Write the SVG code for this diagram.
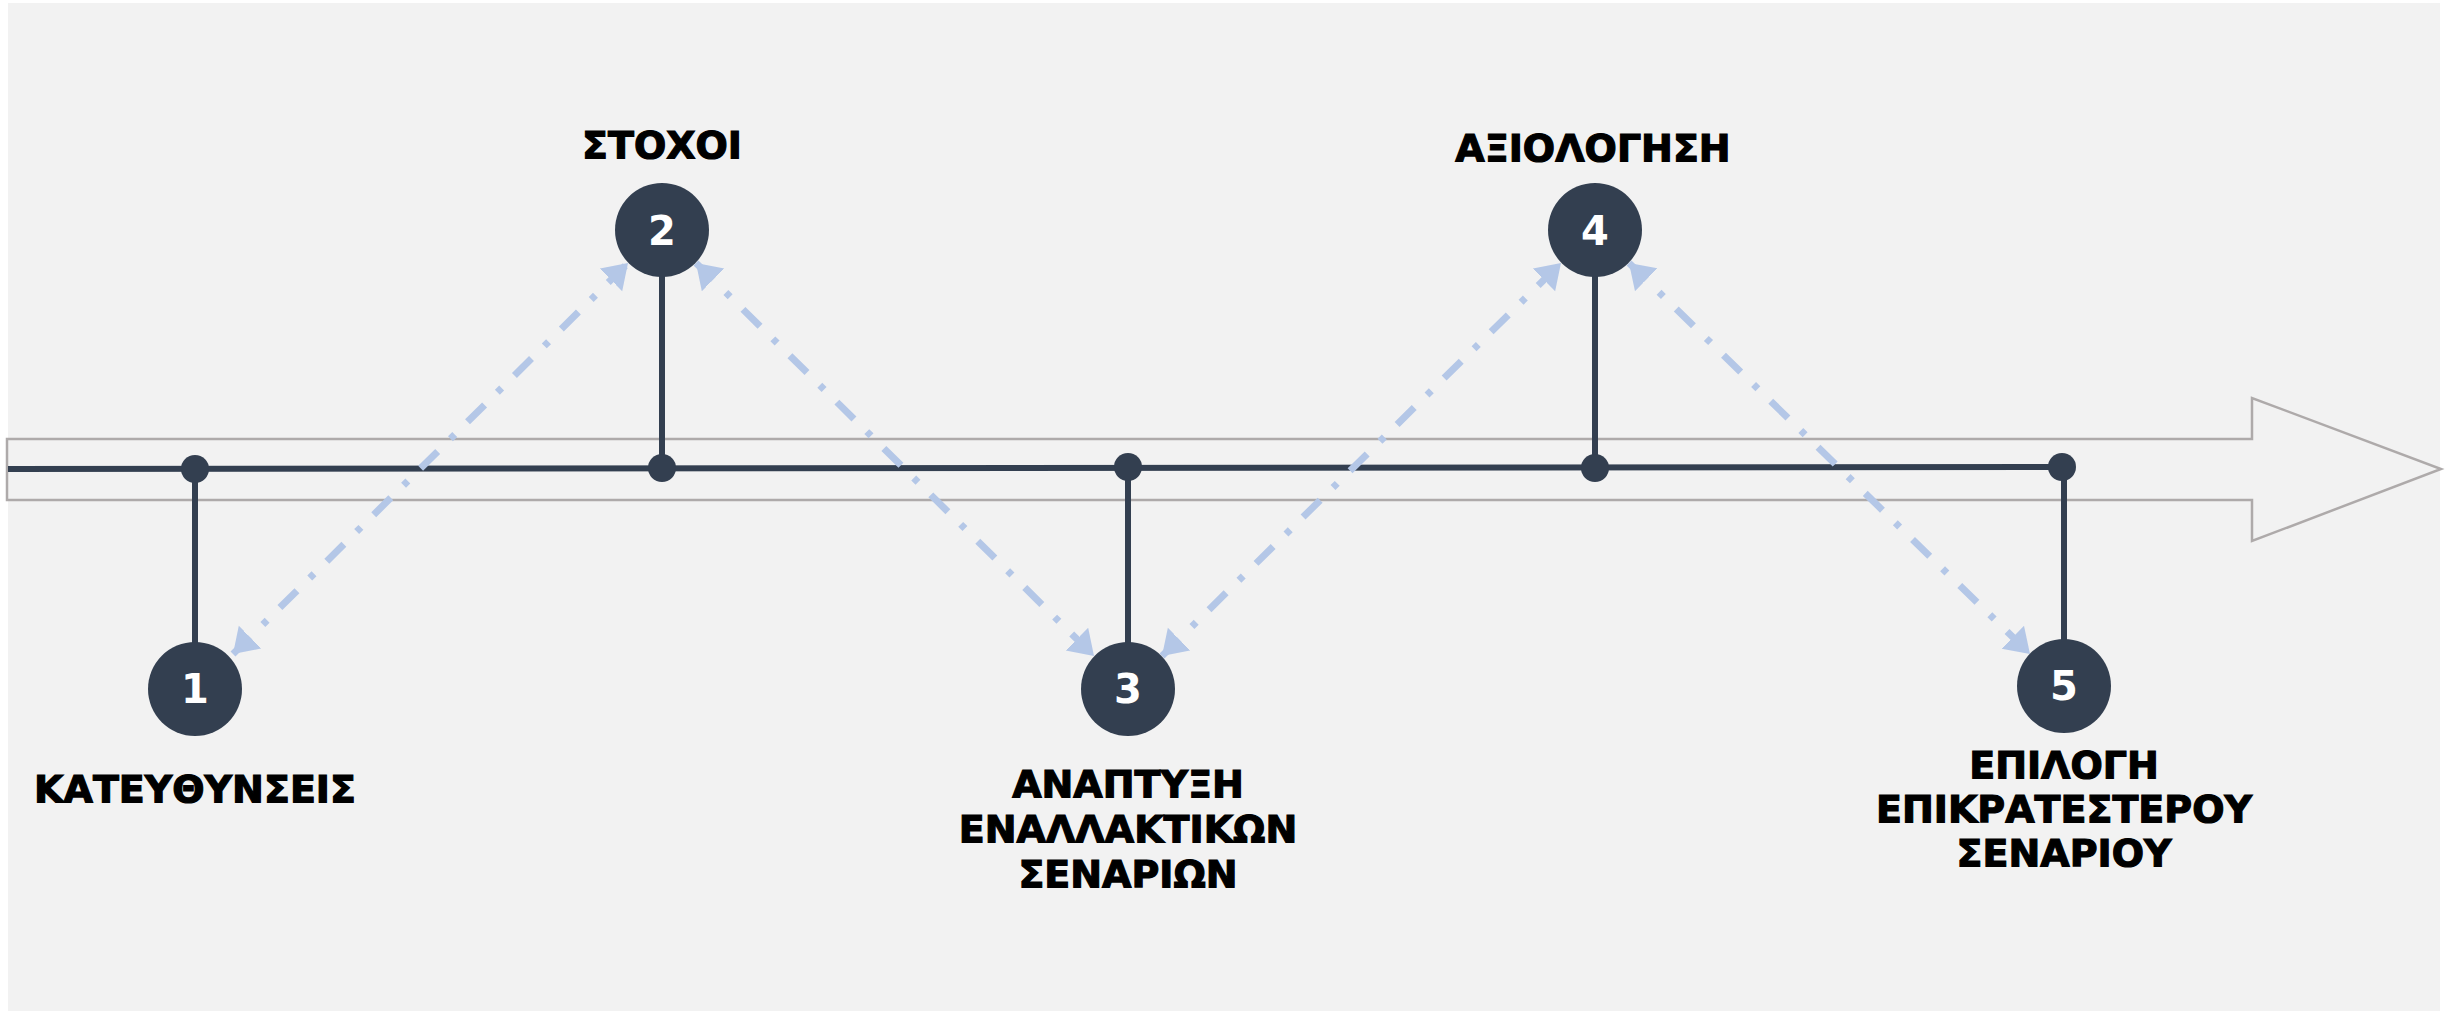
<svg xmlns="http://www.w3.org/2000/svg" width="2447" height="1011" viewBox="0 0 2447 1011">
  <style>
    .bg { fill: #f2f2f2; }
    .big-arrow { fill: none; stroke: #aeaaaa; stroke-width: 2.5; }
    .timeline { stroke: #333f50; stroke-width: 6; fill: none; }
    .stem { stroke: #333f50; stroke-width: 6; }
    .dot { fill: #333f50; }
    .circle { fill: #333f50; }
    .num { font-family: "DejaVu Sans", Verdana, sans-serif; font-weight: bold; font-size: 40px; fill: #ffffff; text-anchor: middle; }
    .label { font-family: "DejaVu Sans", Verdana, sans-serif; font-weight: bold; font-size: 38px; fill: #000000; stroke: #000000; stroke-width: 1.2; text-anchor: middle; }
    .flow { stroke: #b4c7e7; stroke-width: 7; fill: none; stroke-dasharray: 24 18 6 18; marker-start: url(#ah); marker-end: url(#ah); }
  </style>
  <defs>
    <marker id="ah" markerUnits="userSpaceOnUse" markerWidth="26" markerHeight="34" refX="24" refY="16" orient="auto-start-reverse" viewBox="0 0 26 34">
      <path d="M0,0 L24,16 L0,32 Z" fill="#b4c7e7"/>
    </marker>
  </defs>

  <rect class="bg" x="8" y="3" width="2432" height="1008"/>

  <polygon class="big-arrow" points="7,439 2252,439 2252,398 2441,469 2252,541 2252,500 7,500"/>

  <g id="connectors">
    <line class="timeline" x1="8" y1="469" x2="2062" y2="467"/>
    <line class="stem" x1="195" y1="469" x2="195" y2="645"/>
    <line class="stem" x1="662" y1="468" x2="662" y2="275"/>
    <line class="stem" x1="1128" y1="467" x2="1128" y2="645"/>
    <line class="stem" x1="1595" y1="468" x2="1595" y2="275"/>
    <line class="stem" x1="2064" y1="467" x2="2064" y2="642"/>
    <line class="flow" x1="233" y1="654" x2="628" y2="263"/>
    <line class="flow" x1="696" y1="263" x2="1094" y2="656"/>
    <line class="flow" x1="1162" y1="656" x2="1561" y2="263"/>
    <line class="flow" x1="1629" y1="263" x2="2030" y2="654"/>
  </g>

  <g id="dot1"><circle class="dot" cx="195" cy="469" r="14"/></g>
  <g id="dot2"><circle class="dot" cx="662" cy="468" r="14"/></g>
  <g id="dot3"><circle class="dot" cx="1128" cy="467" r="14"/></g>
  <g id="dot4"><circle class="dot" cx="1595" cy="468" r="14"/></g>
  <g id="dot5"><circle class="dot" cx="2062" cy="467" r="14"/></g>

  <g id="node1">
    <circle class="circle" cx="195" cy="689" r="47"/>
    <text class="num" x="195" y="703">1</text>
    <text class="label" x="195" y="802">ΚΑΤΕΥΘΥΝΣΕΙΣ</text>
  </g>
  <g id="node2">
    <circle class="circle" cx="662" cy="230" r="47"/>
    <text class="num" x="662" y="245">2</text>
    <text class="label" x="662" y="158">ΣΤΟΧΟΙ</text>
  </g>
  <g id="node3">
    <circle class="circle" cx="1128" cy="689" r="47"/>
    <text class="num" x="1128" y="703">3</text>
    <text class="label" x="1128" y="797">ΑΝΑΠΤΥΞΗ</text>
    <text class="label" x="1128" y="842">ΕΝΑΛΛΑΚΤΙΚΩΝ</text>
    <text class="label" x="1128" y="887">ΣΕΝΑΡΙΩΝ</text>
  </g>
  <g id="node4">
    <circle class="circle" cx="1595" cy="230" r="47"/>
    <text class="num" x="1595" y="245">4</text>
    <text class="label" x="1593" y="161">ΑΞΙΟΛΟΓΗΣΗ</text>
  </g>
  <g id="node5">
    <circle class="circle" cx="2064" cy="686" r="47"/>
    <text class="num" x="2064" y="700">5</text>
    <text class="label" x="2064" y="778">ΕΠΙΛΟΓΗ</text>
    <text class="label" x="2064" y="822">ΕΠΙΚΡΑΤΕΣΤΕΡΟΥ</text>
    <text class="label" x="2064" y="866">ΣΕΝΑΡΙΟΥ</text>
  </g>
</svg>
